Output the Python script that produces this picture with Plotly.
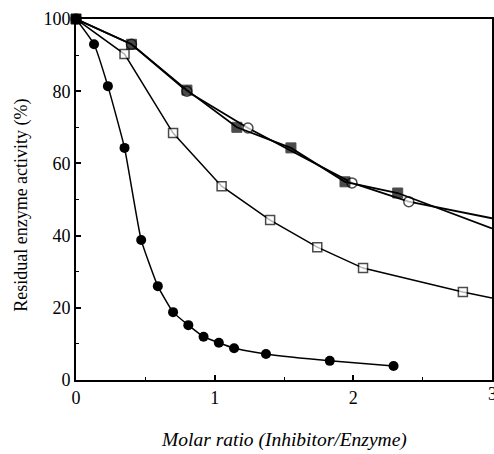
import plotly.graph_objects as go

# Series data
x_fc = [0, 0.13, 0.23, 0.35, 0.47, 0.59, 0.70, 0.81, 0.92, 1.03, 1.14, 1.37, 1.83, 2.29]
y_fc = [100, 93, 81.4, 64.3, 38.8, 26, 18.8, 15.2, 12, 10.3, 8.8, 7.2, 5.3, 3.9]

x_os = [0, 0.35, 0.70, 1.05, 1.40, 1.74, 2.07, 2.79, 3.0]
y_os = [100, 90.3, 68.4, 53.7, 44.3, 36.8, 31, 24.4, 22.7]

x_fs = [0, 0.40, 0.80, 1.16, 1.55, 1.94, 2.32, 3.0]
y_fs = [100, 93, 80.3, 70, 64.3, 54.9, 51.8, 42]

x_oc = [0, 0.40, 0.80, 1.24, 1.99, 2.40, 3.0]
y_oc = [100, 93, 80, 69.8, 54.6, 49.4, 44.8]

x_ticks = [0, 1, 2, 3]
y_ticks = [0, 20, 40, 60, 80, 100]

FONT = "Liberation Serif"


def sizes(n, s, last_hidden):
    out = [s] * n
    if last_hidden:
        out[-1] = 0
    return out


fig = go.Figure()

fig.add_trace(go.Scatter(
    x=x_os, y=y_os, mode="lines+markers",
    line=dict(color="black", width=1.5),
    marker=dict(symbol="square", size=sizes(len(x_os), 9, True), color="white",
                line=dict(color="black", width=1.5)),
    cliponaxis=False, showlegend=False))

fig.add_trace(go.Scatter(
    x=x_oc, y=y_oc, mode="lines+markers",
    line=dict(color="black", width=1.8),
    marker=dict(symbol="circle", size=sizes(len(x_oc), 10, True), color="white",
                line=dict(color="black", width=1.5)),
    cliponaxis=False, showlegend=False))

fig.add_trace(go.Scatter(
    x=x_fs, y=y_fs, mode="lines+markers",
    line=dict(color="black", width=1.8),
    marker=dict(symbol="square", size=sizes(len(x_fs), 10, True), color="black",
                line=dict(color="black", width=1)),
    cliponaxis=False, showlegend=False))

fig.add_trace(go.Scatter(
    x=x_fc, y=y_fc, mode="lines+markers",
    line=dict(color="black", width=1.5, shape="spline", smoothing=0.4),
    marker=dict(symbol="circle", size=10, color="black"),
    cliponaxis=False, showlegend=False))

fig.update_layout(
    width=494, height=454,
    margin=dict(l=76, r=2, t=19, b=74),
    paper_bgcolor="white", plot_bgcolor="white",
    font=dict(family=FONT, color="black", size=18),
)

fig.update_xaxes(
    range=[0, 3], tickvals=x_ticks[:-1], ticktext=[str(v) for v in x_ticks[:-1]],
    showgrid=False, zeroline=False, automargin=False,
    showline=True, linecolor="black", linewidth=2, mirror=True,
    ticks="inside", ticklen=5, tickwidth=1.5, tickcolor="black",
    minor=dict(dtick=0.5, ticks="inside", ticklen=3, tickwidth=1.2, tickcolor="black"),
    tickfont=dict(size=18, family=FONT),
)

fig.update_yaxes(
    range=[0, 100], tickvals=y_ticks, ticktext=[str(v) for v in y_ticks],
    showgrid=False, zeroline=False, automargin=False,
    showline=True, linecolor="black", linewidth=2, mirror=True,
    ticks="inside", ticklen=5, tickwidth=1.5, tickcolor="black",
    minor=dict(dtick=10, ticks="inside", ticklen=3, tickwidth=1.2, tickcolor="black"),
    tickfont=dict(size=18, family=FONT),
)

# last x tick label (partly cut at the right edge as in the reference)
fig.add_annotation(x=x_ticks[-1], y=0, xref="x", yref="y", text=str(x_ticks[-1]),
                   showarrow=False, yanchor="top", xanchor="center", yshift=-2,
                   font=dict(size=18, family=FONT))

fig.add_annotation(x=0.5, y=-0.166, xref="paper", yref="paper",
                   text="<i>Molar ratio (Inhibitor/Enzyme)</i>", showarrow=False,
                   xanchor="center", yanchor="middle", font=dict(size=19.5, family=FONT))
fig.add_annotation(x=-0.13, y=0.485, xref="paper", yref="paper",
                   text="Residual enzyme activity (%)", showarrow=False, textangle=-90,
                   xanchor="center", yanchor="middle", font=dict(size=18, family=FONT))

fig.write_html(
    "out.html",
    config={"displayModeBar": False},
    post_script="document.body.style.margin='0';document.body.style.overflow='hidden';",
)
